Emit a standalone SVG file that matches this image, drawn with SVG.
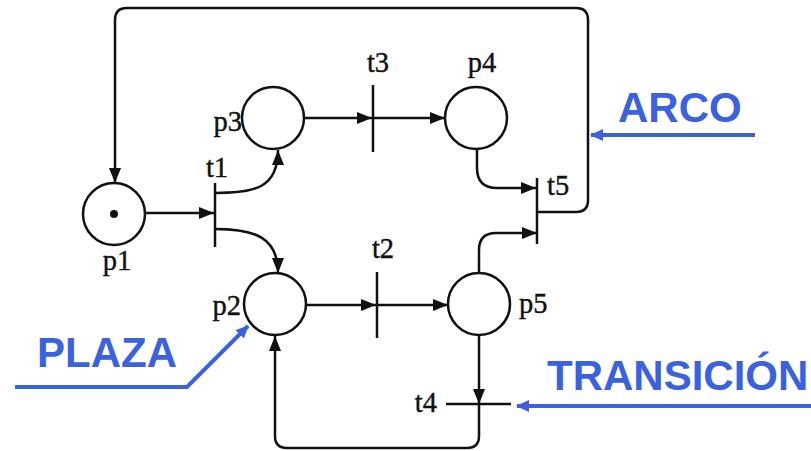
<svg xmlns="http://www.w3.org/2000/svg" width="811" height="451" viewBox="0 0 811 451">
<style>
.place{fill:#fff;stroke:#111;stroke-width:2.5}
.bar{stroke:#111;stroke-width:2.5;fill:none}
.arc{stroke:#111;stroke-width:2.5;fill:none;marker-end:url(#ah)}
.lbl{font-family:"Liberation Serif","Times New Roman",serif;font-size:28.5px;fill:#111;stroke:#111;stroke-width:0.4}
.note{font-family:"Liberation Sans",Arial,sans-serif;font-weight:bold;font-size:42px;fill:#3a62e0}
.pointer{stroke:#3a62e0;stroke-width:4;fill:none;marker-end:url(#bh)}
</style>
<defs>
<marker id="ah" markerUnits="userSpaceOnUse" markerWidth="15" markerHeight="12" refX="15" refY="6" orient="auto">
<path d="M0,0 L15,6 L0,12 z" fill="#111"/>
</marker>
<marker id="bh" markerUnits="userSpaceOnUse" markerWidth="13" markerHeight="12" refX="12" refY="6" orient="auto">
<path d="M0,0 L13,6 L0,12 z" fill="#3a62e0"/>
</marker>
</defs>
<rect width="811" height="451" fill="#fff"/>
<g id="connectors">
<path class="arc" d="M145,213 L214,213"/>
<path class="arc" d="M215,193 C255,193 278,188 278,150"/>
<path class="arc" d="M215,229 C256,229 278,238 278,273"/>
<path class="arc" d="M304,118 L372,118"/>
<path class="arc" d="M373,118 L445,118"/>
<path class="arc" d="M477,149 L477,168 Q477,188 497,188 L536,188"/>
<path class="arc" d="M306,305 L376,305"/>
<path class="arc" d="M377,305 L448,305"/>
<path class="arc" d="M479,273 L479,250 Q479,233 496,233 L537,233"/>
<path class="arc" d="M479,335 L479,404"/>
<path class="arc" d="M479,404 L479,436 Q479,448 467,448 L287,448 Q275,448 275,436 L275,336"/>
<path class="arc" d="M537,212 L576,212 Q588,212 588,200 L588,20 Q588,8 576,8 L127,8 Q115,8 115,20 L115,183"/>
</g>
<g id="p1"><circle class="place" cx="114" cy="214" r="31"/><circle cx="114" cy="214" r="4" fill="#111"/><text class="lbl" x="117" y="270" text-anchor="middle">p1</text></g>
<g id="p2"><circle class="place" cx="275" cy="304" r="31"/><text class="lbl" x="241" y="315" text-anchor="end">p2</text></g>
<g id="p3"><circle class="place" cx="273" cy="118" r="31"/><text class="lbl" x="242" y="131" text-anchor="end">p3</text></g>
<g id="p4"><circle class="place" cx="476" cy="118" r="31"/><text class="lbl" x="482" y="72" text-anchor="middle">p4</text></g>
<g id="p5"><circle class="place" cx="479" cy="304" r="31"/><text class="lbl" x="519" y="313">p5</text></g>
<g id="t1"><line class="bar" x1="215" y1="183" x2="215" y2="247"/><text class="lbl" x="217" y="177" text-anchor="middle">t1</text></g>
<g id="t2"><line class="bar" x1="377" y1="272" x2="377" y2="338"/><text class="lbl" x="383" y="258" text-anchor="middle">t2</text></g>
<g id="t3"><line class="bar" x1="373" y1="85" x2="373" y2="152"/><text class="lbl" x="378" y="72" text-anchor="middle">t3</text></g>
<g id="t4"><line class="bar" x1="446" y1="404" x2="511" y2="404"/><text class="lbl" x="437" y="412" text-anchor="end">t4</text></g>
<g id="t5"><line class="bar" x1="537" y1="178" x2="537" y2="244"/><text class="lbl" x="547" y="195">t5</text></g>
<g id="arco"><text class="note" x="618" y="122">ARCO</text><path class="pointer" d="M755,135 L591,135"/></g>
<g id="plaza"><text class="note" x="37" y="367">PLAZA</text><path class="pointer" d="M15,387 L187,387 L248,326"/></g>
<g id="transicion"><text class="note" x="547" y="390">TRANSICIÓN</text><path class="pointer" d="M811,406 L517,406"/></g>
</svg>
